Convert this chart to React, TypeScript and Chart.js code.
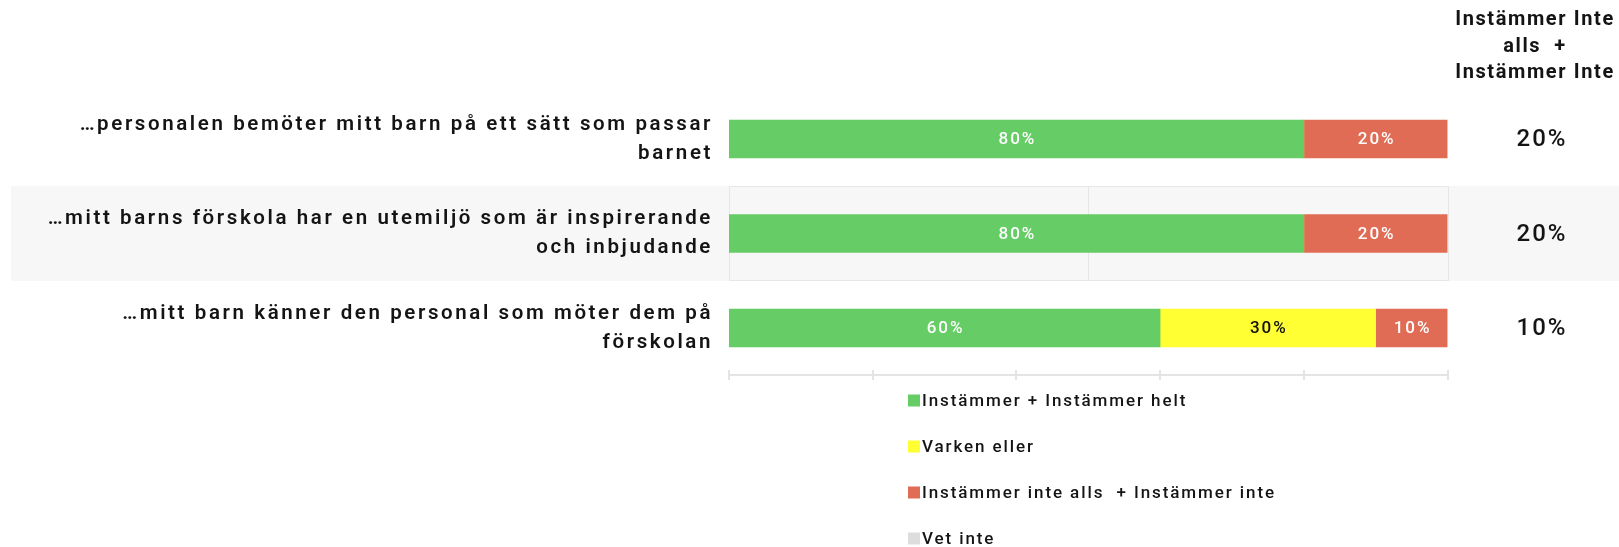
import React, { useEffect, useRef } from "react";
import { Chart, registerables } from "chart.js";

Chart.register(...registerables);

const categories: string[][] = [
  ["…personalen bemöter mitt barn på ett sätt som passar", "barnet"],
  ["…mitt barns förskola har en utemiljö som är inspirerande", "och inbjudande"],
  ["…mitt barn känner den personal som möter dem på", "förskolan"],
];
const seriesNames = [
  "Instämmer + Instämmer helt",
  "Varken eller",
  "Instämmer inte alls  + Instämmer inte",
  "Vet inte",
];
const agreeValues = [80, 80, 60];
const neutralValues = [0, 0, 30];
const disagreeValues = [20, 20, 10];
const dontKnowValues = [0, 0, 0];
const seriesColors = ["#66CC66", "#FFFF33", "#E06C55", "#DDDDDD"];
const valueLabelColors = ["#FFFFFF", "#111111", "#FFFFFF", "#111111"];
const rightHeader = ["Instämmer Inte", "alls  +", "Instämmer Inte"];
const rightValues = disagreeValues.map((v) => `${v}%`);
const xTicks = [0, 20, 40, 60, 80, 100];

const W = 1619;
const H = 547;
const FONT = "Roboto, 'Liberation Sans', Arial, sans-serif";
const TEXT = "#141414";
const LABEL_SPACING = "2.6px";

const customPlugin = {
  id: "customDecor",
  beforeLayout(chart: any) {
    chart.ctx.letterSpacing = LABEL_SPACING;
  },
  beforeDraw(chart: any) {
    const { ctx, chartArea: a, scales } = chart;
    const y = scales.y;
    const x = scales.x;
    const rowH = (a.bottom - a.top) / categories.length;
    ctx.save();
    categories.forEach((_, i) => {
      if (i % 2 !== 1) return;
      const cy = y.getPixelForValue(i);
      const top = Math.round(cy - rowH / 2);
      const bottom = Math.round(cy + rowH / 2);
      ctx.fillStyle = "#F7F7F7";
      ctx.fillRect(11, top, W - 11, bottom - top);
      ctx.strokeStyle = "#E6E6E6";
      ctx.lineWidth = 1;
      ctx.beginPath();
      ctx.moveTo(a.left, top + 0.5);
      ctx.lineTo(a.right, top + 0.5);
      ctx.moveTo(a.left, bottom - 0.5);
      ctx.lineTo(a.right, bottom - 0.5);
      [0, 50, 100].forEach((v) => {
        const px = Math.round(x.getPixelForValue(v)) + 0.5;
        ctx.moveTo(px, top);
        ctx.lineTo(px, bottom);
      });
      ctx.stroke();
    });
    ctx.restore();
    ctx.letterSpacing = LABEL_SPACING;
  },
  afterDatasetsDraw(chart: any) {
    const { ctx } = chart;
    ctx.save();
    ctx.letterSpacing = "2px";
    ctx.font = `500 17px ${FONT}`;
    ctx.textAlign = "center";
    ctx.textBaseline = "middle";
    chart.data.datasets.forEach((ds: any, di: number) => {
      const meta = chart.getDatasetMeta(di);
      meta.data.forEach((bar: any, i: number) => {
        const v = ds.data[i];
        if (!v) return;
        ctx.fillStyle = valueLabelColors[di];
        ctx.fillText(`${v}%`, (bar.x + bar.base) / 2 + 1, bar.y + 1);
      });
    });
    ctx.restore();
  },
  afterDraw(chart: any) {
    const { ctx, chartArea: a, scales } = chart;
    const x = scales.x;
    const y = scales.y;
    ctx.save();
    // bottom axis
    ctx.strokeStyle = "#E4E4E4";
    ctx.lineWidth = 2;
    ctx.beginPath();
    const axisY = Math.round(a.bottom);
    ctx.moveTo(x.getPixelForValue(0), axisY);
    ctx.lineTo(x.getPixelForValue(100), axisY);
    xTicks.forEach((t) => {
      const px = Math.round(x.getPixelForValue(t));
      ctx.moveTo(px, axisY - 5);
      ctx.lineTo(px, axisY + 5);
    });
    ctx.stroke();

    // right column values
    ctx.fillStyle = TEXT;
    ctx.textAlign = "center";
    ctx.textBaseline = "middle";
    ctx.letterSpacing = "2px";
    ctx.font = `500 24px ${FONT}`;
    rightValues.forEach((t, i) => {
      ctx.fillText(t, 1542, y.getPixelForValue(i) + 1);
    });

    // right header
    ctx.font = `bold 20px ${FONT}`;
    ctx.letterSpacing = "1.6px";
    rightHeader.forEach((t, i) => {
      ctx.fillText(t, 1535, 20 + i * 26.5);
    });

    // legend
    ctx.textAlign = "left";
    ctx.font = `500 17px ${FONT}`;
    ctx.letterSpacing = "1.9px";
    seriesNames.forEach((name, i) => {
      const cy = 400.5 + i * 46;
      ctx.fillStyle = seriesColors[i];
      ctx.fillRect(908, cy - 6, 12, 12);
      ctx.fillStyle = TEXT;
      ctx.fillText(name, 922, cy + 1);
    });
    ctx.restore();
  },
};

export default function App() {
  const ref = useRef<HTMLCanvasElement>(null);
  useEffect(() => {
    document.body.style.margin = "0";
    const canvas = ref.current!;
    const datasetValues = [agreeValues, neutralValues, disagreeValues, dontKnowValues];
    const chart = new Chart(canvas, {
      type: "bar",
      data: {
        labels: categories,
        datasets: seriesNames.map((name, i) => ({
          label: name,
          data: datasetValues[i],
          backgroundColor: seriesColors[i],
          borderWidth: 0,
          barThickness: 38,
        })),
      },
      options: {
        indexAxis: "y",
        animation: false,
        responsive: false,
        devicePixelRatio: 1,
        layout: { padding: { top: 91.75, bottom: 171.75, right: 171.5, left: 0 } },
        plugins: {
          legend: { display: false },
          tooltip: { enabled: false },
        },
        scales: {
          x: {
            stacked: true,
            min: 0,
            max: 100,
            display: false,
          },
          y: {
            stacked: true,
            grid: { display: false, drawTicks: false },
            border: { display: false },
            afterFit: (scale: any) => {
              scale.width = 729;
            },
            ticks: {
              padding: 16,
              color: TEXT,
              font: { family: FONT, size: 20.5, weight: "600", lineHeight: 1.42 },
              autoSkip: false,
            },
          },
        },
      },
      plugins: [customPlugin],
    });
    return () => chart.destroy();
  }, []);
  return (
    <div style={{ position: "absolute", left: 0, top: 0, width: W, height: H }}>
      <canvas ref={ref} width={W} height={H} style={{ display: "block" }} />
    </div>
  );
}
